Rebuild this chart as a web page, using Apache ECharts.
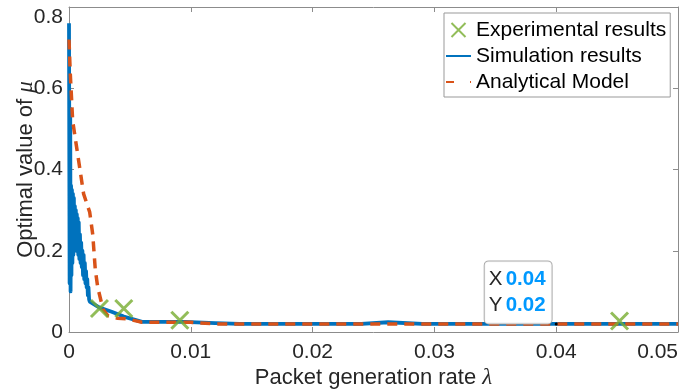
<!DOCTYPE html>
<html>
<head>
<meta charset="utf-8">
<script src="https://cdn.jsdelivr.net/npm/echarts@6/dist/echarts.min.js"></script>
<style>
  html, body { margin: 0; padding: 0; background: #fff; }
  #chart { width: 694px; height: 391px; }
</style>
</head>
<body>
<div id="chart"></div>
<script>
// experimental points (green crosses)
const expX = [0.0025, 0.0045, 0.0091, 0.0452];
const expY = [0.058, 0.058, 0.029, 0.027];

// simulation (blue solid, noisy near zero)
const simX = [0, 0.00005, 0.0001, 0.00013, 0.00017, 0.0002, 0.00024, 0.00028, 0.00032, 0.00036,
  0.0004, 0.00044, 0.00048, 0.00052, 0.00056, 0.0006, 0.00064, 0.00068, 0.00072, 0.00076,
  0.0008, 0.00085, 0.0009, 0.00095, 0.001, 0.00105, 0.0011, 0.00115, 0.0012, 0.00125,
  0.0013, 0.00135, 0.0014, 0.00145, 0.0015, 0.00155, 0.0016, 0.00165, 0.0017,
  0.0025, 0.0035, 0.0045, 0.006, 0.0095, 0.012, 0.014, 0.024, 0.0262, 0.029, 0.05];
const simY = [0.76, 0.12, 0.55, 0.10, 0.36, 0.14, 0.35, 0.17, 0.34, 0.19,
  0.33, 0.20, 0.31, 0.21, 0.30, 0.20, 0.29, 0.22, 0.28, 0.19,
  0.27, 0.18, 0.24, 0.17, 0.22, 0.16, 0.20, 0.14, 0.19, 0.13,
  0.17, 0.12, 0.15, 0.11, 0.13, 0.09, 0.11, 0.08, 0.075,
  0.06, 0.05, 0.038, 0.025, 0.025, 0.022, 0.02, 0.02, 0.024, 0.02, 0.02];

// analytical model (orange dashed)
const anaX = [0, 0.0001, 0.0002, 0.0003, 0.0006, 0.0009, 0.0012, 0.0017, 0.00195, 0.00216,
  0.00236, 0.0026, 0.0028, 0.0032, 0.004, 0.0048, 0.006, 0.01, 0.012, 0.05];
const anaY = [0.72, 0.64, 0.58, 0.52, 0.46, 0.40, 0.34, 0.295, 0.24, 0.153,
  0.11, 0.08, 0.055, 0.04, 0.034, 0.032, 0.024, 0.024, 0.02, 0.02];

// data tip
const tipX = 0.04;
const tipY = 0.02;

const zip = (xs, ys) => xs.map((x, i) => [x, ys[i]]);

const FONT = '"Liberation Sans", Arial, Helvetica, sans-serif';
const AXIS = '#8c8c8c';
const TXT = '#262626';
const NONE = 'rgba(0,0,0,0)';

const chart = echarts.init(document.getElementById('chart'), null, { renderer: 'canvas' });

const boxAxis = {
  axisLine: { show: true, onZero: false, lineStyle: { color: AXIS, width: 1 } },
  axisTick: { show: true, inside: true, length: 5, lineStyle: { color: AXIS } },
  splitLine: { show: false }
};

const nameStyle = {
  fontFamily: FONT, fontSize: 22, color: TXT,
  rich: { i: { fontFamily: '"Liberation Serif", serif', fontStyle: 'italic', fontSize: 23, color: TXT } }
};

const option = {
  animation: false,
  backgroundColor: '#fff',
  grid: { left: 69, right: 16, top: 7, bottom: 59, containLabel: false, outerBoundsMode: 'none' },
  legend: {
    orient: 'vertical',
    left: 444,
    top: 13,
    padding: [6, 4, 4, 1],
    itemGap: 4,
    itemWidth: 25,
    itemHeight: 14,
    backgroundColor: '#fff',
    borderColor: '#999',
    borderWidth: 1,
    textStyle: { fontFamily: FONT, fontSize: 21, color: '#000', lineHeight: 22 },
    data: [
      { name: 'Experimental results' },
      { name: 'Simulation results' },
      { name: 'Analytical Model', lineStyle: { type: [8, 16] } }
    ]
  },
  xAxis: [
    Object.assign({
      type: 'value', min: 0, max: 0.05, interval: 0.01, position: 'bottom',
      name: 'Packet generation rate {i|λ}',
      nameLocation: 'middle',
      nameGap: 34,
      nameMoveOverlap: false,
      nameTextStyle: nameStyle,
      axisLabel: {
        margin: 10, fontFamily: FONT, fontSize: 21, color: TXT,
        alignMaxLabel: 'right',
        formatter: v => String(+v.toFixed(3))
      }
    }, boxAxis),
    Object.assign({
      type: 'value', min: 0, max: 0.05, interval: 0.01, position: 'top',
      axisLabel: { show: false }
    }, boxAxis)
  ],
  yAxis: [
    Object.assign({
      type: 'value', min: 0, max: 0.8, interval: 0.2, position: 'left',
      name: 'Optimal value of {i|μ}',
      nameLocation: 'middle',
      nameGap: 32,
      nameMoveOverlap: false,
      nameTextStyle: nameStyle,
      axisLabel: {
        margin: 6, fontFamily: FONT, fontSize: 21, color: TXT,
        verticalAlignMaxLabel: 'top',
        formatter: v => String(+v.toFixed(2))
      }
    }, boxAxis),
    Object.assign({
      type: 'value', min: 0, max: 0.8, interval: 0.2, position: 'right',
      axisLabel: { show: false }
    }, boxAxis)
  ],
  series: [
    {
      name: 'Simulation results',
      type: 'line',
      data: zip(simX, simY),
      showSymbol: false,
      symbol: 'circle',
      z: 2,
      lineStyle: { color: '#0072BD', width: 3.8, join: 'round' },
      itemStyle: { color: NONE, borderWidth: 0 },
      markPoint: {
        symbol: 'circle',
        symbolSize: 3,
        itemStyle: { color: '#000' },
        data: [{ coord: [tipX, tipY] }],
        label: {
          show: true,
          position: [-70, -61],
          formatter: '{k|X} {v|' + tipX + '}\n{k|Y} {v|' + tipY + '}',
          backgroundColor: 'rgba(255,255,255,0.92)',
          borderColor: '#aaa',
          borderWidth: 1,
          borderRadius: 4,
          padding: [5, 6, 5, 4],
          rich: {
            k: { fontFamily: FONT, fontSize: 20.5, color: TXT, lineHeight: 26 },
            v: { fontFamily: FONT, fontSize: 20.5, fontWeight: 'bold', color: '#0099FF', lineHeight: 26 }
          }
        }
      }
    },
    {
      name: 'Analytical Model',
      type: 'line',
      data: zip(anaX, anaY),
      showSymbol: false,
      symbol: 'circle',
      z: 3,
      lineStyle: { color: '#D95319', width: 3.5, type: [10, 7] },
      itemStyle: { color: NONE, borderWidth: 0 }
    },
    {
      name: 'Experimental results',
      type: 'scatter',
      data: zip(expX, expY),
      symbol: 'path://M0,0 L10,10 M10,0 L0,10',
      symbolSize: 17,
      z: 4,
      itemStyle: { color: NONE, borderColor: '#77AC30', borderWidth: 3 }
    }
  ]
};

chart.setOption(option);
</script>
</body>
</html>
